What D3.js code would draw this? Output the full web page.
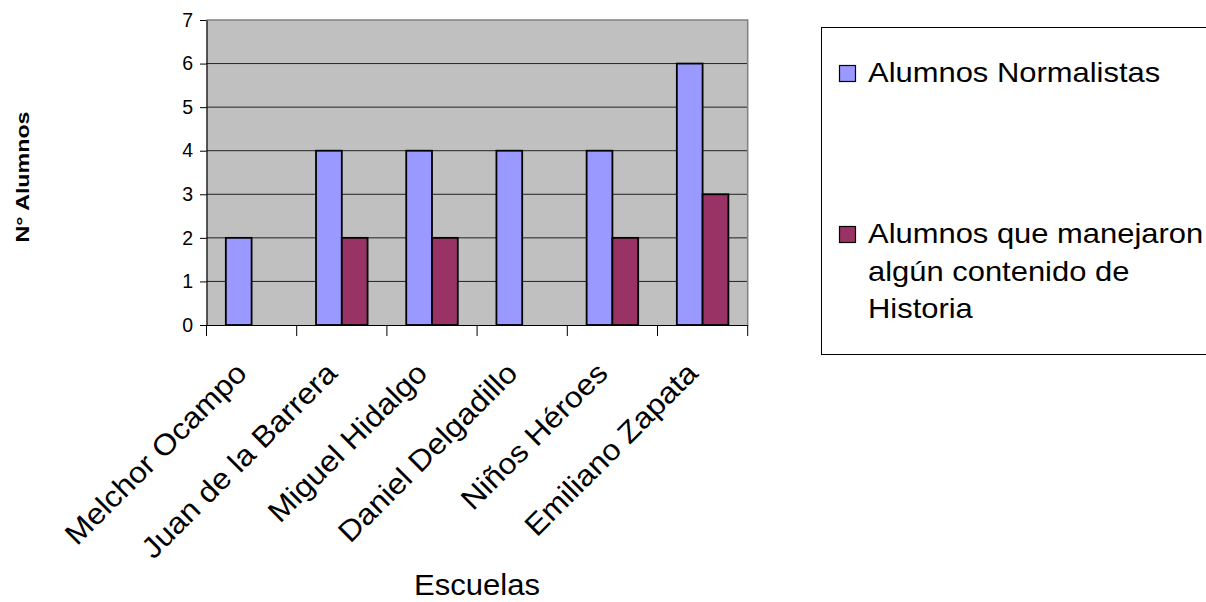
<!DOCTYPE html>
<html><head><meta charset="utf-8">
<script src="https://cdn.jsdelivr.net/npm/d3@7"></script>
<style>body{margin:0;background:#fff}svg{display:block;font-family:"Liberation Sans",Arial,sans-serif}</style>
</head><body>
<svg id="c" width="1206" height="602"></svg>
<script>
const categories = ["Melchor Ocampo","Juan de la Barrera","Miguel Hidalgo","Daniel Delgadillo","Niños Héroes","Emiliano Zapata"];
const seriesNames = ["Alumnos Normalistas","Alumnos que manejaron algún contenido de Historia"];
const normalistas = [2,4,4,4,4,6];
const historia = [0,2,2,0,2,3];
const yTicks = [0,1,2,3,4,5,6,7];
const colors = ["#9999FF","#993366"];

const svg = d3.select("#c");
const L=206.5, R=747.7, T=20, B=325;
const x = d3.scaleBand().domain(categories).range([L,R]).paddingInner(0).paddingOuter(0);
const y = d3.scaleLinear().domain([0,7]).range([B,T]);
const inner = d3.scaleBand().domain([0,1]).range([0,x.bandwidth()]).paddingInner(0).paddingOuter(0.75);

function stretch(sel, f){
  sel.each(function(){
    const n = this.getComputedTextLength();
    d3.select(this).attr("textLength", n*f).attr("lengthAdjust","spacingAndGlyphs");
  });
}

svg.append("rect").attr("x",L).attr("y",T).attr("width",R-L).attr("height",B-T).attr("fill","#C0C0C0");
svg.append("g").selectAll("line").data(yTicks.filter(d=>d>0&&d<7)).join("line")
  .attr("x1",L).attr("x2",R).attr("y1",d=>y(d)).attr("y2",d=>y(d)).attr("stroke","#222").attr("stroke-width",1);
svg.append("path").attr("d",`M${L},${T}H${R}V${B}`).attr("fill","none").attr("stroke","#808080").attr("stroke-width",1.5);

const data = categories.map((c,i)=>({c, v:[normalistas[i],historia[i]]}));
const g = svg.append("g");
data.forEach(d=>{
  d.v.forEach((v,k)=>{
    if(v<=0) return;
    g.append("rect").attr("x",x(d.c)+inner(k)).attr("y",y(v)).attr("width",inner.bandwidth()).attr("height",y(0)-y(v))
      .attr("fill",colors[k]).attr("stroke","#000").attr("stroke-width",1.8);
  });
});

const ya = svg.append("g").attr("transform",`translate(${L},0)`)
  .call(d3.axisLeft(y).tickValues(yTicks).tickFormat(d3.format("d")).tickSize(6.5).tickSizeOuter(0).tickPadding(7));
ya.select(".domain").attr("stroke","#000").attr("stroke-width",1.2);
ya.selectAll(".tick line").attr("stroke","#000");
ya.selectAll("text").attr("font-size",19.5).attr("fill","#000").attr("font-family","Liberation Sans, Arial, sans-serif");

const xa = svg.append("g").attr("transform",`translate(0,${B})`)
  .call(d3.axisBottom(x).tickSize(0).tickSizeOuter(0).tickFormat(""));
xa.select(".domain").attr("stroke","#000").attr("stroke-width",1.2);
const edges = categories.map(c=>x(c)).concat([R]);
svg.append("g").selectAll("line").data(edges).join("line")
  .attr("x1",d=>d).attr("x2",d=>d).attr("y1",B).attr("y2",B+11).attr("stroke","#000");

const cl = svg.append("g").selectAll("text").data(categories).join("text")
  .attr("transform",d=>`translate(${x(d)+x.bandwidth()/2-3},${B+50}) rotate(-45)`)
  .attr("text-anchor","end").attr("font-size",29.5).attr("fill","#000").text(d=>d);
stretch(cl, 1.08);

const et = svg.append("text").attr("x",477).attr("y",595).attr("text-anchor","middle").attr("font-size",30).text("Escuelas");
et.attr("textLength",126).attr("lengthAdjust","spacingAndGlyphs");
svg.append("text").attr("transform","translate(29,177) rotate(-90)").attr("text-anchor","middle")
  .attr("font-size",18.5).attr("font-weight","bold").attr("textLength",131).attr("lengthAdjust","spacingAndGlyphs").text("N° Alumnos");

const lg = svg.append("g");
lg.append("rect").attr("x",821.5).attr("y",27.5).attr("width",400).attr("height",327).attr("fill","#fff").attr("stroke","#000").attr("stroke-width",1);
const legendLines = [["Alumnos Normalistas"],["Alumnos que manejaron","algún contenido de","Historia"]];
const legendY = [82,243];
legendLines.forEach((lines,k)=>{
  lg.append("rect").attr("x",839.5).attr("y",legendY[k]-16.5).attr("width",16).attr("height",16)
    .attr("fill",colors[k]).attr("stroke","#000").attr("stroke-width",1.2);
  lines.forEach((t,j)=>{
    const tx = lg.append("text").attr("x",868).attr("y",legendY[k]+j*37.5).attr("font-size",28.5).text(t);
    stretch(tx, 1.085);
  });
});
</script>
</body></html>
